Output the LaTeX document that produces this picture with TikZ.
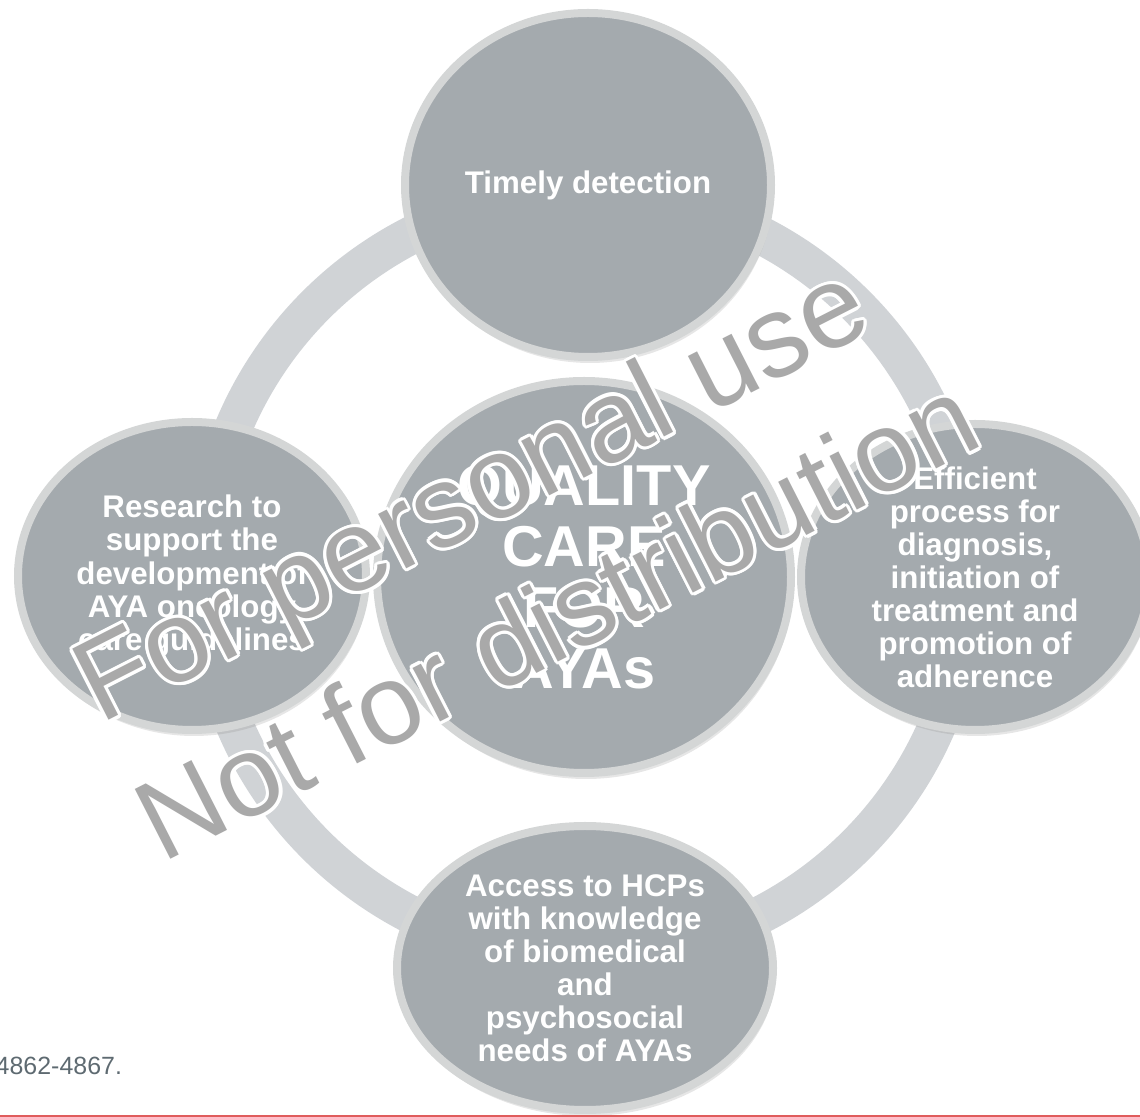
\documentclass[tikz,border=0pt]{standalone}
\usepackage{fontspec}
\setmainfont{Liberation Sans}
\usepackage{contour}
\usetikzlibrary{shapes,shadows}

\definecolor{ringgray}{HTML}{D0D3D6}
\definecolor{bubblegray}{HTML}{A4AAAE}
\definecolor{rimgray}{HTML}{D4D6D6}
\definecolor{markgray}{HTML}{A9A9A9}
\definecolor{notegray}{HTML}{5E6A71}
\definecolor{rulered}{HTML}{E05C5C}

\contourlength{0.9pt}

\begin{document}
\begin{tikzpicture}
        \tikzstyle{bubble} = [ellipse, draw=rimgray, line width=0.8mm, fill=bubblegray, inner sep=0pt,
                              drop shadow={opacity=0.2, shadow xshift=0.2mm, shadow yshift=-0.6mm}]
        \tikzstyle{btext} = [text=white, align=center, inner sep=0pt, font=\bfseries\fontsize{8.9}{9.4}\selectfont]
        \tikzstyle{wmtext} = [rotate=27, anchor=base west, inner sep=0pt, text=markgray]

        \useasboundingbox (0,0) rectangle (11.40,11.17);

        % ring linking the four outer bubbles
        \draw[ringgray, line width=3.8mm] (5.86,5.42) circle (3.82);

        \node[bubble, minimum width=3.66cm, minimum height=3.44cm] (detect) at (5.88,9.32) {};
        \node[bubble, minimum width=3.48cm, minimum height=3.08cm] (research) at (1.92,5.41) {};
        \node[bubble, minimum width=3.48cm, minimum height=3.06cm] (process) at (9.75,5.40) {};
        \node[bubble, minimum width=3.76cm, minimum height=2.84cm] (access) at (5.85,1.49) {};
        \node[bubble, minimum width=4.14cm, minimum height=3.92cm] (quality) at (5.84,5.40) {};

        \node[btext] (detect-t) at (detect) {Timely detection};
        \node[btext] (research-t) at (research) {Research to\\support the\\development of\\AYA oncology\\care guidelines};
        \node[btext] (process-t) at (process) {Efficient\\process for\\diagnosis,\\initiation of\\treatment and\\promotion of\\adherence};
        \node[btext] (access-t) at (access) {Access to HCPs\\with knowledge\\of biomedical\\and\\psychosocial\\needs of AYAs};
        \node[btext, font=\bfseries\fontsize{16.4}{17.3}\selectfont] (quality-t) at (quality) {QUALITY\\CARE\\FOR\\AYAs};

        \node[anchor=base west, inner sep=0pt, text=notegray, font=\fontsize{7.1}{8}\selectfont] (pages) at (-0.05,0.42) {4862-4867.};
        \draw[rulered, line width=0.2mm] (0,0.01) -- (11.40,0.01);

        % watermark on top
        \node[wmtext, font=\fontsize{33}{33}\selectfont] (wm-a) at (1.00,3.92) {\contour{white}{For personal use}};
        \node[wmtext, font=\fontsize{32.4}{33}\selectfont] (wm-b) at (1.62,2.53) {\contour{white}{Not for distribution}};
\end{tikzpicture}
\end{document}
